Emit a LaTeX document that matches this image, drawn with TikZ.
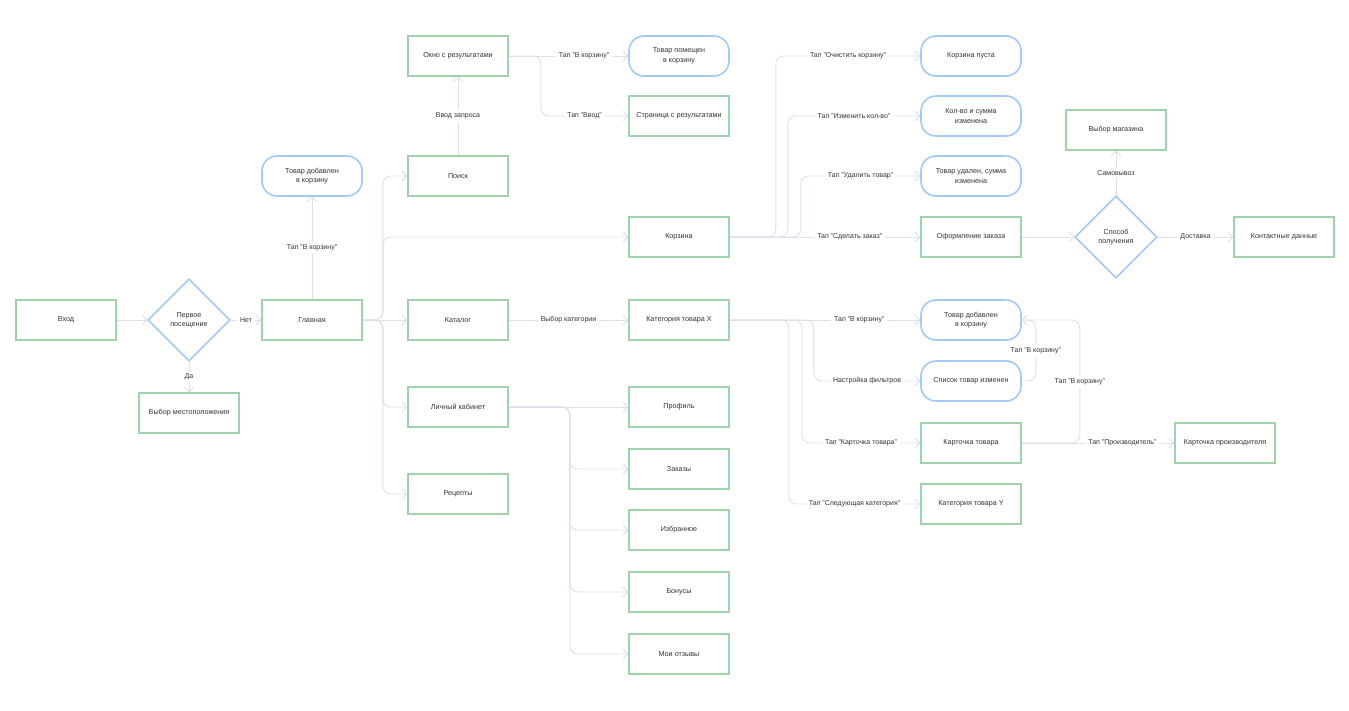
\documentclass[tikz,border=0pt]{standalone}
\usepackage{fontspec}
\setmainfont{Liberation Sans}
\usetikzlibrary{shapes.geometric,arrows.meta}
\definecolor{boxgreen}{HTML}{A0D3AB}
\definecolor{boxblue}{HTML}{A3C9F4}
\definecolor{linegray}{HTML}{DAE0EC}
\definecolor{txtgray}{HTML}{333333}
\tikzstyle{screen} = [draw=boxgreen, line width=1.6pt, fill=white,
    rectangle, minimum width=100pt, minimum height=40pt, inner sep=2pt,
    font=\fontsize{7.2}{9.5}\selectfont, text=txtgray, align=center]
\tikzstyle{state} = [screen, draw=boxblue, rounded corners=15pt]
\tikzstyle{choice} = [draw=boxblue, line width=1.6pt, fill=white, diamond, aspect=1,
    minimum size=82pt, inner sep=0pt, font=\fontsize{7.2}{9.5}\selectfont, text=txtgray, align=center]
\tikzstyle{flow} = [draw=linegray, line width=0.9pt, rounded corners=8pt,
    -{Straight Barb[length=4.5pt,width=10pt]}]
\tikzstyle{tap} = [fill=white, sharp corners, text=txtgray, inner sep=3pt,
    font=\fontsize{7}{8.5}\selectfont]

\begin{document}
\begin{tikzpicture}[x=1pt, y=-1pt]
\useasboundingbox (0,0) rectangle (1349,710);
\node[screen] (vhod) at (66,320) {Вход};
\node[choice] (perv) at (189,320) {Первое\\посещение};
\node[screen] (mesto) at (189,413) {Выбор местоположения};
\node[screen] (glav) at (312,320) {Главная};
\node[state] (dob1) at (312,176) {Товар добавлен\\в корзину};
\node[screen] (poisk) at (458,176) {Поиск};
\node[screen] (okno) at (458,56) {Окно с результатами};
\node[state] (pomesh) at (679,56) {Товар помещен\\в корзину};
\node[screen] (stran) at (679,116) {Страница с результатами};
\node[screen] (korz) at (679,237) {Корзина};
\node[screen] (katal) at (458,320) {Каталог};
\node[screen] (katx) at (679,320) {Категория товара X};
\node[screen] (lk) at (458,407) {Личный кабинет};
\node[screen] (rec) at (458,494) {Рецепты};
\node[screen] (prof) at (679,407) {Профиль};
\node[screen] (zak) at (679,469) {Заказы};
\node[screen] (izbr) at (679,530) {Избранное};
\node[screen] (bon) at (679,592) {Бонусы};
\node[screen] (otz) at (679,654) {Мои отзывы};
\node[state] (pusta) at (971,56) {Корзина пуста};
\node[state] (kolvo) at (971,116) {Кол-во и сумма\\изменена};
\node[state] (udal) at (971,176) {Товар удален, сумма\\изменена};
\node[screen] (oform) at (971,237) {Оформление заказа};
\node[choice] (sposob) at (1116,237) {Способ\\получения};
\node[screen] (magaz) at (1116,130) {Выбор магазина};
\node[screen] (kontakt) at (1284,237) {Контактные данные};
\node[state] (dob2) at (971,320) {Товар добавлен\\в корзину};
\node[state] (spisok) at (971,381) {Список товар изменен};
\node[screen] (kartt) at (971,443) {Карточка товара};
\node[screen] (katy) at (971,504) {Категория товара Y};
\node[screen] (proizv) at (1225,443) {Карточка производителя};

\draw[flow] (vhod) -- (perv);
\draw[flow] (perv) -- node[tap]{Нет} (glav);
\draw[flow] (perv) -- node[tap]{Да} (mesto);
\draw[flow] (glav) -- node[tap]{Тап "В корзину"} (dob1);
\draw[flow] (glav.east) -- ++(20,0) |- (poisk.west);
\draw[flow] (glav.east) -- ++(20,0) |- (korz.west);
\draw[flow] (glav) -- (katal);
\draw[flow] (glav.east) -- ++(20,0) |- (lk.west);
\draw[flow] (glav.east) -- ++(20,0) |- (rec.west);
\draw[flow] (poisk) -- node[tap]{Ввод запроса} (okno);
\draw[flow] (okno) -- node[tap,pos=0.63]{Тап "В корзину"} (pomesh);
\draw[flow] (okno.east) -- ++(32,0) |- node[tap,pos=0.75]{Тап "Ввод"} (stran.west);
\draw[flow] (katal) -- node[tap]{Выбор категории} (katx);
\draw[flow] (lk) -- (prof);
\draw[flow] (lk.east) -- ++(61,0) |- (zak.west);
\draw[flow] (lk.east) -- ++(61,0) |- (izbr.west);
\draw[flow] (lk.east) -- ++(61,0) |- (bon.west);
\draw[flow] (lk.east) -- ++(61,0) |- (otz.west);
\draw[flow] (korz.east) -- ++(46,0) |- node[tap,pos=0.75]{Тап "Очистить корзину"} (pusta.west);
\draw[flow] (korz.east) -- ++(58,0) |- node[tap,pos=0.75]{Тап "Изменить кол-во"} (kolvo.west);
\draw[flow] (korz.east) -- ++(71,0) |- node[tap,pos=0.75]{Тап "Удалить товар"} (udal.west);
\draw[flow] (korz) -- node[tap,pos=0.63]{Тап "Сделать заказ"} (oform);
\draw[flow] (oform) -- (sposob);
\draw[flow] (sposob) -- node[tap]{Самовывоз} (magaz);
\draw[flow] (sposob) -- node[tap]{Доставка} (kontakt);
\draw[flow] (katx) -- node[tap,pos=0.68]{Тап "В корзину"} (dob2);
\draw[flow] (katx.east) -- ++(84,0) |- node[tap,pos=0.75]{Настройка фильтров} (spisok.west);
\draw[flow] (katx.east) -- ++(72,0) |- node[tap,pos=0.75]{Тап "Карточка товара"} (kartt.west);
\draw[flow] (katx.east) -- ++(59,0) |- node[tap,pos=0.75]{Тап "Следующая категория"} (katy.west);
\draw[flow] (spisok.east) -- ++(14,0) |- node[tap,pos=0.25]{Тап "В корзину"} (dob2.east);
\draw[flow] (kartt.east) -- ++(58,0) |- node[tap,pos=0.25]{Тап "В корзину"} (dob2.east);
\draw[flow] (kartt) -- node[tap,pos=0.66]{Тап "Производитель"} (proizv);
\end{tikzpicture}
\end{document}
